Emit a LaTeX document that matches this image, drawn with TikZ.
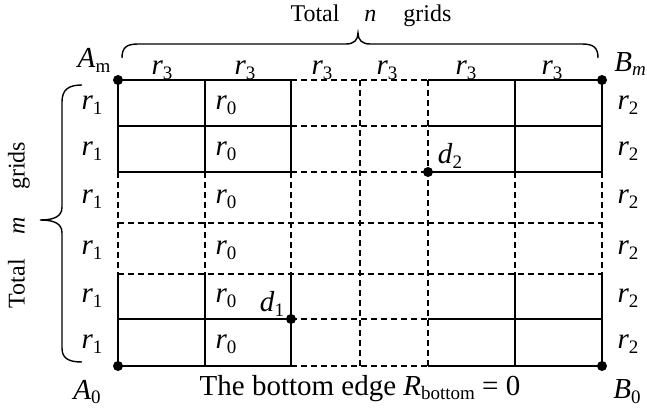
\documentclass[tikz,border=0pt]{standalone}
\usepackage{fontspec}
\setmainfont{Liberation Serif}
\newcommand{\lsub}[1]{\raisebox{-0.17em}{\fontsize{19}{19}\selectfont #1}}
\begin{document}
\begin{tikzpicture}[x=1pt,y=-1pt,
  solidl/.style={line width=1.4pt},
  dashl/.style={line width=1.2pt, dash pattern=on 6pt off 4pt},
  dot/.style={circle, fill=black, inner sep=0pt, minimum size=10pt},
  lbl/.style={font=\fontsize{29}{29}\selectfont, inner sep=0pt},
  brace/.style={line width=1.4pt},
  toptext/.style={font=\fontsize{24}{24}\selectfont, inner sep=0pt, anchor=base},
  bottext/.style={font=\fontsize{29}{29}\selectfont, inner sep=0pt, anchor=base}]
\useasboundingbox (0,0) rectangle (647,409);
% grid points
\foreach \x [count=\i from 0] in {118,205,291,360,428,515,602}
  \foreach \y [count=\j from 0] in {80,126,172,223,274,319,366}
    \coordinate (p\i\j) at (\x,\y);
% dashed lines
\foreach \j in {0,1,2,5,6} \draw[dashl] (p2\j) -- (p4\j);
\foreach \j in {3,4} \draw[dashl] (p0\j) -- (p6\j);
\foreach \i in {0,1,2,5,6} \draw[dashl] (p\i2) -- (p\i4);
\foreach \i in {3,4} \draw[dashl] (p\i0) -- (p\i6);
% solid lines
\foreach \j in {0,1,2,5,6} {
  \draw[solidl] (p0\j) -- (p2\j);
  \draw[solidl] (p4\j) -- (p6\j);
}
\foreach \i in {0,1,2,5,6} {
  \draw[solidl] (p\i0) -- (p\i2);
  \draw[solidl] (p\i4) -- (p\i6);
}
% dots
\node[dot] (Am) at (p00) {};
\node[dot] (Bm) at (p60) {};
\node[dot] (A0) at (p06) {};
\node[dot] (B0) at (p66) {};
\node[dot] (d2) at (p42) {};
\node[dot] (d1) at (p25) {};
% corner labels
\node[lbl] (tAm) at (94,60) {\textit{A}\lsub{m}};
\node[lbl] (tBm) at (630,64) {\textit{B}\lsub{\itshape m}};
\node[lbl] (tA0) at (87,392) {\textit{A}\lsub{0}};
\node[lbl] (tB0) at (627,392) {\textit{B}\lsub{0}};
\node[lbl] (td2) at (450,156) {\textit{d}\lsub{2}};
\node[lbl] (td1) at (272,304) {\textit{d}\lsub{1}};
% r3 labels
\foreach \x [count=\k] in {162,245,322,387,466,552}
  \node[lbl] (rt\k) at (\x,70) {\textit{r}\lsub{3}};
% r1, r0, r2 labels
\foreach \y [count=\k] in {105,151,199,250,298,344} {
  \node[lbl] (rl\k) at (92,\y) {\textit{r}\lsub{1}};
  \node[lbl] (rm\k) at (226,\y) {\textit{r}\lsub{0}};
  \node[lbl] (rr\k) at (628,\y) {\textit{r}\lsub{2}};
}
% braces
\draw[brace] (122,58) .. controls (122,48) and (126,44) .. (138,44) -- (346,44)
  .. controls (354,44) and (358,40) .. (358,33)
  .. controls (358,40) and (362,44) .. (370,44) -- (582,44)
  .. controls (594,44) and (598,48) .. (598,58);
\draw[brace] (82,85) .. controls (68,85) and (62,90) .. (62,102) -- (62,207)
  .. controls (62,216) and (55,220) .. (40,220)
  .. controls (55,220) and (62,224) .. (62,233) -- (62,348)
  .. controls (62,358) and (68,362) .. (82,362);
% texts
\node[toptext] (ttop) at (371,22) {Total\hspace{25pt}\textit{n}\hspace{27pt}grids};
\node[toptext, anchor=center, rotate=90] (tleft) at (19,225) {Total\hspace{25pt}\textit{m}\hspace{27pt}grids};
\node[bottext] (tbot) at (360,395) {The bottom edge \textit{R}\raisebox{-0.17em}{\fontsize{19}{19}\selectfont bottom} = 0};
\end{tikzpicture}
\end{document}
